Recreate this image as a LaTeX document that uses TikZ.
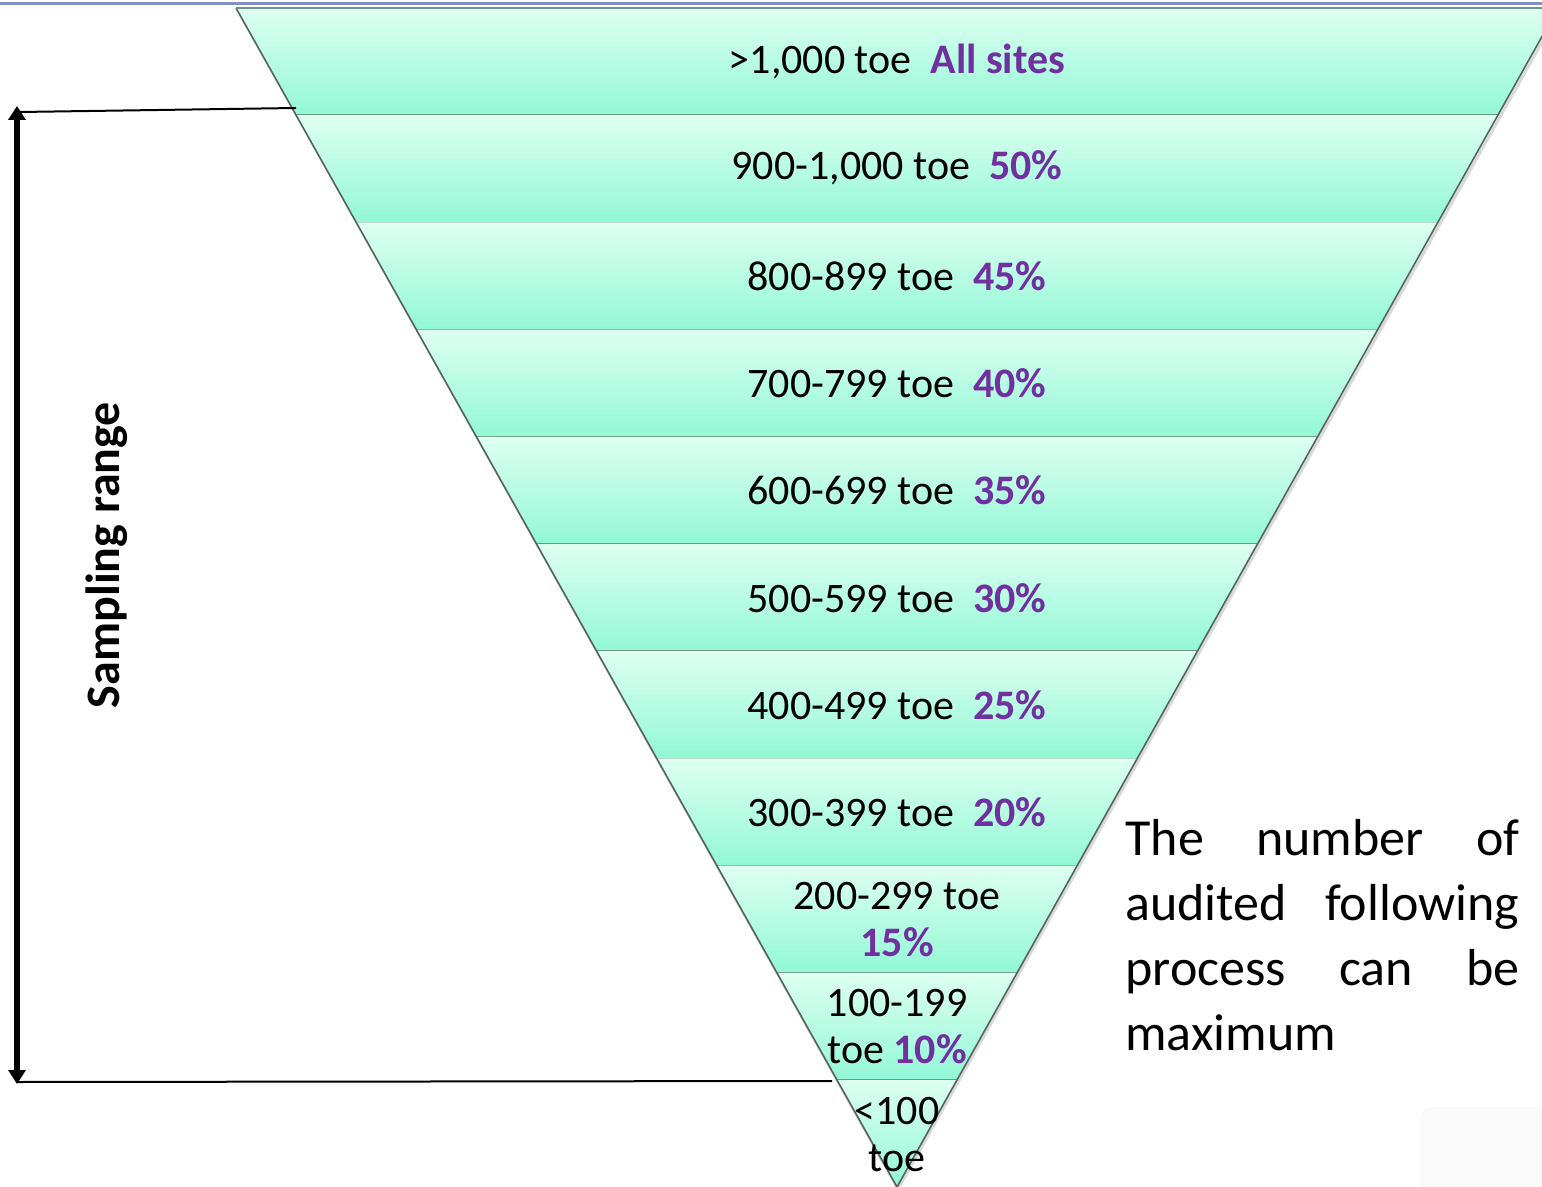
\documentclass[tikz,border=0pt]{standalone}
\usepackage{fontspec}
\setmainfont{Carlito}
\usetikzlibrary{arrows.meta,calc}
\definecolor{bandtop}{HTML}{DEFFF2}
\definecolor{bandbot}{HTML}{92F8D6}
\definecolor{pct}{HTML}{7030A0}
\definecolor{sepline}{HTML}{6E9484}
\definecolor{edgeline}{HTML}{55645E}
\definecolor{rulecol}{HTML}{8090C0}
\hbadness=10000
\hyphenpenalty=10000
\exhyphenpenalty=10000
\tolerance=10000
\begin{document}
\begin{tikzpicture}[x=0.5pt,y=-0.5pt,
  lbl/.style={inner sep=0pt, align=center, font=\fontsize{21}{23.5}\selectfont},
  leader/.style={line width=1pt, black},
  bigarrow/.style={line width=3pt, {Triangle[length=7pt,width=8.5pt]}-{Triangle[length=7pt,width=8.5pt]}},
  notetext/.style={anchor=north west, text width=197pt, inner sep=0pt, align=justify,
    font=\fontsize{26}{32.5}\selectfont}
]
\useasboundingbox (0,0) rectangle (1542,1187);
\clip (0,0) rectangle (1542,1187);
\fill[white] (0,0) rectangle (1542,1187);
\draw[rulecol, line width=1.5pt] (0,4) -- (1542,4);
% faint box bottom right
\fill[black!2, rounded corners=6pt] (1420,1107) rectangle (1560,1200);
% funnel shadow
\draw[black!15, line width=1.5pt] (238,10) -- (898,1189) -- (1560,10);
% bands
\foreach \k in {0,...,10} {
  \pgfmathsetmacro\ya{8+107.2*\k}
  \pgfmathsetmacro\yb{\ya+107.2}
  \pgfmathsetmacro\ha{0.5606*(1187-\ya)}
  \pgfmathsetmacro\hb{0.5606*(1187-\yb)}
  \shade[top color=bandtop,bottom color=bandbot]
    ({897-\ha},\ya) -- ({897+\ha},\ya) -- ({897+\hb},\yb) -- ({897-\hb},\yb) -- cycle;
  \ifnum\k<10
    \draw[sepline, line width=0.8pt] ({897-\hb},\yb) -- ({897+\hb},\yb);
  \fi
}
\draw[edgeline, line width=0.8pt] (236,8) -- (897,1187) -- (1558,8);
\draw[sepline, line width=0.8pt] (236,8) -- (1558,8);
% labels
\node[lbl] (b1) at (897,61) {>1,000 toe~~\textcolor{pct}{\bfseries All sites}};
\node[lbl] (b2) at (897,168) {900-1,000 toe~~\textcolor{pct}{\bfseries 50\%}};
\node[lbl] (b3) at (897,276) {800-899 toe~~\textcolor{pct}{\bfseries 45\%}};
\node[lbl] (b4) at (897,383) {700-799 toe~~\textcolor{pct}{\bfseries 40\%}};
\node[lbl] (b5) at (897,490) {600-699 toe~~\textcolor{pct}{\bfseries 35\%}};
\node[lbl] (b6) at (897,598) {500-599 toe~~\textcolor{pct}{\bfseries 30\%}};
\node[lbl] (b7) at (897,705) {400-499 toe~~\textcolor{pct}{\bfseries 25\%}};
\node[lbl] (b8) at (897,812) {300-399 toe~~\textcolor{pct}{\bfseries 20\%}};
\node[lbl] (b9) at (897,920) {200-299 toe\\\textcolor{pct}{\bfseries 15\%}};
\node[lbl] (b10) at (897,1027) {100-199\\toe \textcolor{pct}{\bfseries 10\%}};
\node[lbl] (b11) at (897,1135) {<100\\toe};
% sampling range bracket
\coordinate (atop) at (17,106);
\coordinate (abot) at (17,1084);
\coordinate (ltopA) at (20,112);
\coordinate (ltopB) at (296,108);
\coordinate (lbotA) at (17,1082);
\coordinate (lbotB) at (832,1081);
\draw[leader] (ltopA) -- (ltopB);
\draw[leader] (lbotA) -- (lbotB);
\draw[bigarrow] (atop) -- (abot);
\node[rotate=90, inner sep=0pt, font=\bfseries\fontsize{24}{28}\selectfont] (sr) at (107,555) {Sampling range};
% note
\node[notetext] (note) at (1125,819) {The number of\linebreak audited following\linebreak process can be\linebreak maximum};
\end{tikzpicture}
\end{document}
